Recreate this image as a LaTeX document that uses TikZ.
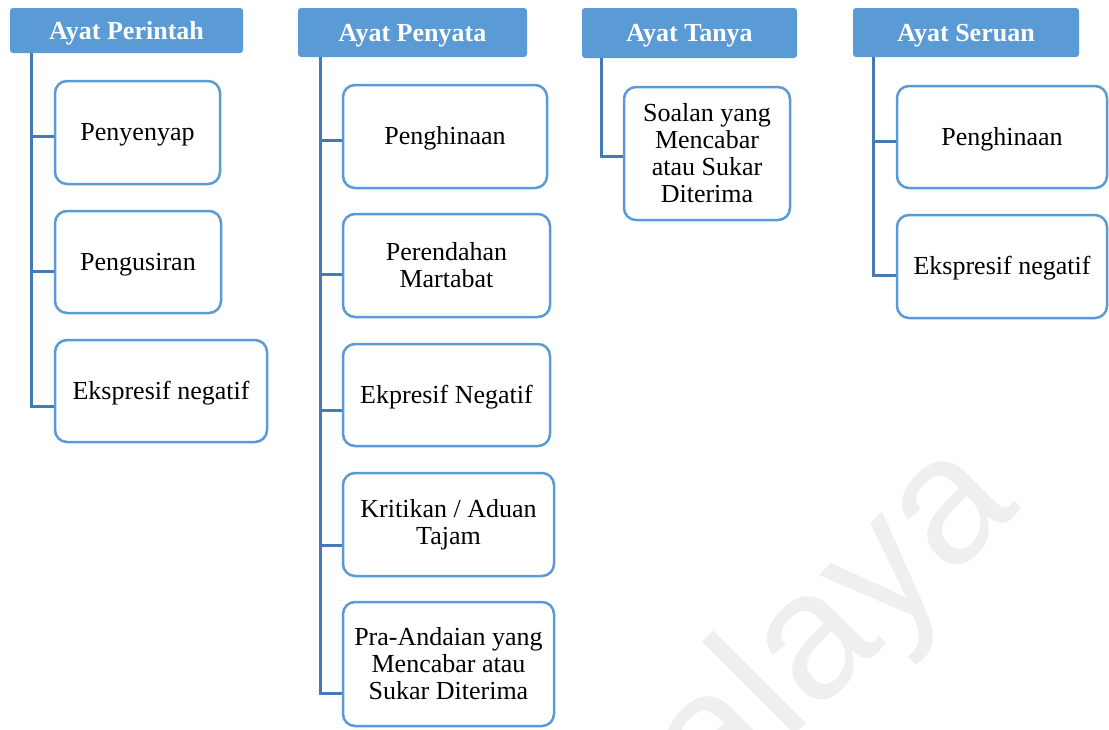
\documentclass[tikz,border=0pt]{standalone}
\usepackage{fontspec}
\setmainfont{Liberation Serif}
\newfontfamily\wmfont{Liberation Sans}
\definecolor{hdrblue}{HTML}{5B9BD5}
\definecolor{boxblue}{HTML}{5B9BD5}
\definecolor{linkblue}{HTML}{467AB4}
\definecolor{wmgray}{HTML}{EFEFEF}
\tikzset{
  hdr/.style={fill=hdrblue, rounded corners=3pt, text=white, inner sep=0pt,
    text height=18.5pt, text depth=1.2pt,
    font=\bfseries\fontsize{26}{27}\selectfont},
  item/.style={draw=boxblue, line width=2.5pt, fill=white, rounded corners=12pt,
    align=center, inner sep=0pt, font=\fontsize{26}{27}\selectfont},
  oneline/.style={text height=18.5pt, text depth=1.9pt},
  link/.style={draw=linkblue, line width=3pt},
}
\begin{document}
\begin{tikzpicture}[x=1pt,y=-1pt]
\useasboundingbox (0,0) rectangle (1109,729);
\begin{scope}
\clip (0,0) rectangle (1109,729);
\node[anchor=base west, rotate=45, inner sep=0pt, text=wmgray,
  font=\wmfont\fontsize{181}{181}\selectfont] (wm) at (715.5,814.5) {alaya};
\end{scope}
% headers
\node[hdr, minimum width=233pt, minimum height=45pt] (hP) at (126.5,30.5) {Ayat Perintah};
\node[hdr, minimum width=229pt, minimum height=49pt] (hN) at (412.5,32.5) {Ayat Penyata};
\node[hdr, minimum width=215pt, minimum height=50pt] (hT) at (689.5,33) {Ayat Tanya};
\node[hdr, minimum width=226pt, minimum height=49pt] (hS) at (966,32.5) {Ayat Seruan};
% items
\node[item, oneline, minimum width=165pt, minimum height=103pt] (p1) at (137.5,132.5) {Penyenyap};
\node[item, oneline, minimum width=166pt, minimum height=102pt] (p2) at (138,262) {Pengusiran};
\node[item, oneline, minimum width=212pt, minimum height=102pt] (p3) at (161,391) {Ekspresif negatif};
\node[item, oneline, minimum width=204pt, minimum height=103pt] (n1) at (445,136.5) {Penghinaan};
\node[item, minimum width=207pt, minimum height=103pt] (n2) at (446.5,265.5) {Perendahan\\Martabat};
\node[item, oneline, minimum width=207pt, minimum height=102pt] (n3) at (446.5,395) {Ekpresif Negatif};
\node[item, minimum width=211pt, minimum height=103pt] (n4) at (448.5,524.5) {Kritikan / Aduan\\Tajam};
\node[item, minimum width=211pt, minimum height=124pt] (n5) at (448.5,664) {Pra-Andaian yang\\Mencabar atau\\Sukar Diterima};
\node[item, minimum width=166pt, minimum height=133pt] (t1) at (707,153.5) {Soalan yang\\Mencabar\\atau Sukar\\Diterima};
\node[item, oneline, minimum width=210pt, minimum height=102pt] (s1) at (1002,137) {Penghinaan};
\node[item, oneline, minimum width=210pt, minimum height=103pt] (s2) at (1002,266.5) {Ekspresif negatif};
% trunk tops
\coordinate (vP) at ([xshift=22pt]hP.south west);
\coordinate (vN) at ([xshift=23pt]hN.south west);
\coordinate (vT) at ([xshift=20pt]hT.south west);
\coordinate (vS) at ([xshift=21pt]hS.south west);
% attachment points
\coordinate (cp1) at ([yshift=-3.5pt]p1.west);
\coordinate (cp2) at ([yshift=-9pt]p2.west);
\coordinate (cp3) at ([yshift=-15pt]p3.west);
\coordinate (cn1) at ([yshift=-3.5pt]n1.west);
\coordinate (cn2) at ([yshift=-8.5pt]n2.west);
\coordinate (cn3) at ([yshift=-15pt]n3.west);
\coordinate (cn4) at ([yshift=-20.5pt]n4.west);
\coordinate (cn5) at ([yshift=-29pt]n5.west);
\coordinate (ct1) at ([yshift=-2.5pt]t1.west);
\coordinate (cs1) at ([yshift=-4pt]s1.west);
\coordinate (cs2) at ([yshift=-8.5pt]s2.west);
% connectors
\draw[link] (vP) |- (cp3);
\draw[link] (vP |- cp1) -- (cp1);
\draw[link] (vP |- cp2) -- (cp2);
\draw[link] (vN) |- (cn5);
\draw[link] (vN |- cn1) -- (cn1);
\draw[link] (vN |- cn2) -- (cn2);
\draw[link] (vN |- cn3) -- (cn3);
\draw[link] (vN |- cn4) -- (cn4);
\draw[link] (vT) |- (ct1);
\draw[link] (vS) |- (cs2);
\draw[link] (vS |- cs1) -- (cs1);
\end{tikzpicture}
\end{document}
